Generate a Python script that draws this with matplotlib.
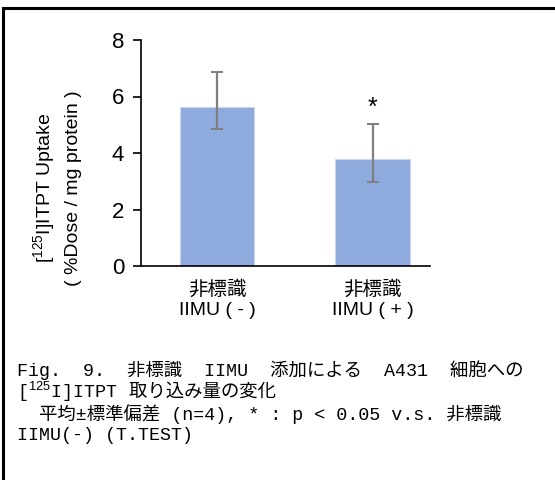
import matplotlib
matplotlib.use('Agg')
import matplotlib.pyplot as plt
from matplotlib.lines import Line2D

plt.rcParams['font.family'] = ['Liberation Sans', 'Noto Sans CJK JP']
plt.rcParams['mathtext.fontset'] = 'custom'
plt.rcParams['mathtext.rm'] = 'Liberation Sans'
plt.rcParams['mathtext.it'] = 'Liberation Sans'

# data
groups = ['非標識\nIIMU ( - )', '非標識\nIIMU ( + )']
uptake = [5.64, 3.79]
err_low = [0.78, 0.81]
err_high = [1.24, 1.25]
marks = ['', '*']
yticks = [0, 2, 4, 6, 8]

W, H = 555, 480
fig = plt.figure(figsize=(W / 100, H / 100), dpi=100)


def fx(px):
    return px / W


def fy(py):
    return 1 - py / H


# frame around the panel (only top and left edges are visible)
fig.add_artist(Line2D([fx(3), fx(555)], [fy(8), fy(8)], color='black', lw=2.2))
fig.add_artist(Line2D([fx(3), fx(3)], [fy(8), fy(480)], color='black', lw=2.2))

ax = fig.add_axes([fx(141), fy(266), fx(430) - fx(141), fy(40) - fy(266)])
x = [0, 1]
ax.bar(x, uptake, width=0.48, color='#8FAADC', edgecolor='#C9D6EE', linewidth=0.8,
       yerr=[err_low, err_high], ecolor='#7F7F7F',
       error_kw=dict(elinewidth=1.6, capsize=4, capthick=1.4))
for xi, v, eh, m in zip(x, uptake, err_high, marks):
    if m:
        ax.text(xi, v + eh + 0.15, m, ha='center', va='bottom', fontsize=18)

ax.set_ylim(0, 8)
ax.set_xlim(-0.49, 1.37)
ax.set_yticks(yticks)
ax.set_yticklabels([str(t) for t in yticks], fontsize=16)
ax.set_xticks(x)
ax.set_xticklabels(groups, fontsize=14, linespacing=1.3)
ax.tick_params(axis='x', length=0, pad=10)
ax.tick_params(axis='y', length=6, width=1.2, pad=6)
for s in ['top', 'right']:
    ax.spines[s].set_visible(False)
ax.spines['left'].set_linewidth(1.2)
ax.spines['bottom'].set_linewidth(1.2)

fig.text(fx(44), fy(188), r'[$^{125}$I]ITPT Uptake', rotation=90,
         ha='center', va='center', fontsize=14)
fig.text(fx(73), fy(188), '( %Dose / mg protein )', rotation=90,
         ha='center', va='center', fontsize=14)

# caption
cap = ['Liberation Mono', 'Noto Sans CJK JP']
cs = 13.25
fig.text(fx(17), fy(370), 'Fig.  9.  非標識  IIMU  添加による  A431  細胞への',
         family=cap, fontsize=cs, va='center')
t1 = fig.text(fx(17), fy(392), r'[$^{125}$I]ITPT', family=cap, fontsize=cs, va='center')
fig.canvas.draw()
bb = t1.get_window_extent()
fig.text(bb.x1 / W, fy(392), ' 取り込み量の変化', family=cap, fontsize=cs, va='center')
fig.text(fx(17), fy(414), '  平均±標準偏差 (n=4), * : p < 0.05 v.s. 非標識',
         family=cap, fontsize=cs, va='center')
fig.text(fx(17), fy(436), 'IIMU(-) (T.TEST)', family=cap, fontsize=cs, va='center')

fig.savefig('out.png', dpi=100)
